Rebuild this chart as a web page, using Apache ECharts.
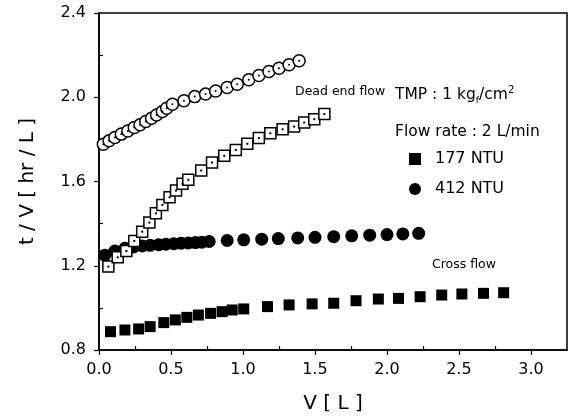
<!DOCTYPE html>
<html>
<head>
<meta charset="utf-8">
<script src="https://cdn.jsdelivr.net/npm/echarts@6/dist/echarts.min.js"></script>
<style>
    html, body { margin: 0; padding: 0; background: #fff; }
    #chart { width: 574px; height: 420px; }
</style>
</head>
<body>
<div id="chart"></div>
<script>
// dead end flow, 412 NTU (open circles)
var deadCircleV = [0.03, 0.07, 0.11, 0.155, 0.20, 0.245, 0.285, 0.325, 0.365, 0.40, 0.44, 0.47, 0.51, 0.59, 0.665, 0.74, 0.81, 0.89, 0.96, 1.04, 1.11, 1.18, 1.25, 1.32, 1.39];
var deadCircleT = [1.777, 1.793, 1.809, 1.825, 1.840, 1.856, 1.869, 1.885, 1.900, 1.916, 1.932, 1.948, 1.967, 1.983, 2.003, 2.015, 2.030, 2.046, 2.062, 2.083, 2.103, 2.122, 2.138, 2.154, 2.173];

// dead end flow, 177 NTU (open squares)
var deadSquareV = [0.065, 0.13, 0.19, 0.245, 0.30, 0.35, 0.395, 0.44, 0.49, 0.535, 0.58, 0.62, 0.71, 0.785, 0.87, 0.95, 1.03, 1.11, 1.19, 1.275, 1.355, 1.425, 1.495, 1.565];
var deadSquareT = [1.196, 1.240, 1.270, 1.318, 1.362, 1.405, 1.449, 1.489, 1.525, 1.557, 1.589, 1.608, 1.652, 1.690, 1.722, 1.750, 1.779, 1.806, 1.829, 1.848, 1.861, 1.880, 1.896, 1.920];

// cross flow, 412 NTU (filled circles)
var crossCircleV = [0.04, 0.11, 0.18, 0.24, 0.30, 0.355, 0.415, 0.465, 0.52, 0.57, 0.62, 0.67, 0.715, 0.765, 0.89, 1.005, 1.13, 1.245, 1.38, 1.50, 1.63, 1.755, 1.88, 2.00, 2.11, 2.22];
var crossCircleT = [1.250, 1.270, 1.283, 1.289, 1.294, 1.297, 1.300, 1.302, 1.305, 1.307, 1.308, 1.310, 1.312, 1.315, 1.320, 1.323, 1.326, 1.329, 1.332, 1.335, 1.338, 1.342, 1.345, 1.348, 1.351, 1.354];

// cross flow, 177 NTU (filled squares)
var crossSquareV = [0.08, 0.18, 0.275, 0.355, 0.45, 0.53, 0.61, 0.69, 0.775, 0.855, 0.925, 1.005, 1.17, 1.32, 1.48, 1.63, 1.785, 1.94, 2.08, 2.23, 2.38, 2.52, 2.67, 2.81];
var crossSquareT = [0.887, 0.895, 0.900, 0.911, 0.930, 0.943, 0.955, 0.966, 0.974, 0.982, 0.990, 0.995, 1.006, 1.014, 1.019, 1.022, 1.034, 1.042, 1.045, 1.053, 1.061, 1.066, 1.069, 1.072];

var xMinorTicks = [0.25, 0.75, 1.25, 1.75, 2.25, 2.75];
var yMinorTicks = [1.0, 1.4, 1.8, 2.2];

function pairs(xs, ys) {
    return xs.map(function (x, i) { return [x, ys[i]]; });
}

var font = '"DejaVu Sans", sans-serif';
var chart = echarts.init(document.getElementById('chart'));

var baseX = { min: 0, max: 3.25, type: 'value', splitLine: { show: false } };
var baseY = { min: 0.8, max: 2.4, type: 'value', splitLine: { show: false } };

var option = {
    animation: false,
    backgroundColor: '#fff',
    grid: {
        left: 99, right: 7, top: 13, bottom: 70,
        show: true, borderColor: '#000', borderWidth: 1.5
    },
    xAxis: [
        Object.assign({}, baseX, {
            interval: 0.5,
            name: 'V [ L ]',
            nameLocation: 'middle',
            nameGap: 44,
            nameTextStyle: { fontFamily: font, fontSize: 20, color: '#000' },
            axisLine: { lineStyle: { color: '#000', width: 1.5 } },
            axisTick: { length: 5, lineStyle: { color: '#000', width: 1.2 } },
            axisLabel: {
                fontFamily: font, fontSize: 16, color: '#000', margin: 12,
                showMaxLabel: false,
                formatter: function (v) { return v.toFixed(1); }
            }
        }),
        Object.assign({}, baseX, {
            position: 'bottom',
            axisLine: { show: false },
            axisLabel: { show: false },
            axisTick: { inside: true, length: 4, customValues: xMinorTicks, lineStyle: { color: '#000', width: 1.2 } }
        })
    ],
    yAxis: [
        Object.assign({}, baseY, {
            interval: 0.4,
            name: 't / V [ hr / L ]',
            nameLocation: 'middle',
            nameGap: 61,
            nameRotate: 90,
            nameTextStyle: { fontFamily: font, fontSize: 20, color: '#000' },
            axisLine: { lineStyle: { color: '#000', width: 1.5 } },
            axisTick: { length: 5, lineStyle: { color: '#000', width: 1.2 } },
            axisLabel: {
                fontFamily: font, fontSize: 16, color: '#000', margin: 13,
                formatter: function (v) { return v.toFixed(1); }
            }
        }),
        Object.assign({}, baseY, {
            position: 'left',
            axisLine: { show: false },
            axisLabel: { show: false },
            axisTick: { inside: true, length: 4, customValues: yMinorTicks, lineStyle: { color: '#000', width: 1.2 } }
        })
    ],
    legend: {
        orient: 'vertical',
        left: 409,
        top: 151,
        padding: 0,
        itemGap: 14,
        itemWidth: 12,
        itemHeight: 12,
        textStyle: { fontFamily: font, fontSize: 16, color: '#000', padding: [0, 0, 0, 9] },
        data: ['177 NTU', '412 NTU']
    },
    series: [
        {
            name: '177 NTU', type: 'scatter', symbol: 'rect', symbolSize: 11,
            itemStyle: { color: '#000', opacity: 1 },
            data: pairs(crossSquareV, crossSquareT)
        },
        {
            name: '412 NTU', type: 'scatter', symbol: 'circle', symbolSize: 13,
            itemStyle: { color: '#000', opacity: 1 },
            data: pairs(crossCircleV, crossCircleT)
        },
        {
            name: 'dead end circle', type: 'scatter', symbol: 'circle', symbolSize: 12,
            itemStyle: { color: '#fff', borderColor: '#000', borderWidth: 1.5, opacity: 1 },
            data: pairs(deadCircleV, deadCircleT)
        },
        {
            name: 'dead end circle dot', type: 'scatter', symbol: 'circle', symbolSize: 2, silent: true,
            itemStyle: { color: '#000', opacity: 1 },
            data: pairs(deadCircleV, deadCircleT)
        },
        {
            name: 'dead end square', type: 'scatter', symbol: 'rect', symbolSize: 11,
            itemStyle: { color: '#fff', borderColor: '#000', borderWidth: 1.5, opacity: 1 },
            data: pairs(deadSquareV, deadSquareT)
        },
        {
            name: 'dead end square dot', type: 'scatter', symbol: 'rect', symbolSize: 2, silent: true,
            itemStyle: { color: '#000', opacity: 1 },
            data: pairs(deadSquareV, deadSquareT)
        }
    ],
    graphic: [
        {
            type: 'text', x: 295, y: 92,
            style: { text: 'Dead end flow', font: '12.5px ' + font, fill: '#000', verticalAlign: 'middle' }
        },
        {
            type: 'text', x: 432, y: 265,
            style: { text: 'Cross flow', font: '12.5px ' + font, fill: '#000', verticalAlign: 'middle' }
        },
        {
            type: 'text', x: 395, y: 85,
            style: {
                text: '{a|TMP : 1 kg}{sub|f}{a|/cm}{sup|2}',
                fill: '#000',
                rich: {
                    a: { fontFamily: font, fontSize: 15.5, lineHeight: 20, fill: '#000' },
                    sub: { fontFamily: font, fontSize: 9, lineHeight: 20, verticalAlign: 'bottom', fill: '#000' },
                    sup: { fontFamily: font, fontSize: 10, lineHeight: 20, verticalAlign: 'top', fill: '#000' }
                }
            }
        },
        {
            type: 'text', x: 395, y: 132,
            style: { text: 'Flow rate : 2 L/min', font: '15.5px ' + font, fill: '#000', verticalAlign: 'middle' }
        }
    ]
};

chart.setOption(option);
</script>
</body>
</html>
